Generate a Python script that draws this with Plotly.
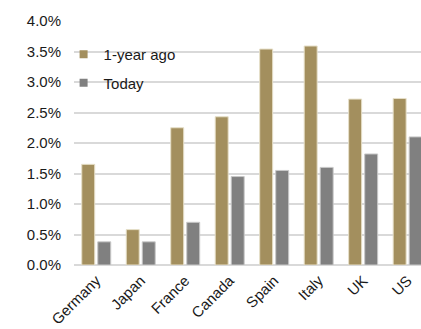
import plotly.graph_objects as go

countries = ["Germany", "Japan", "France", "Canada", "Spain", "Italy", "UK", "US"]
year_ago = [1.65, 0.58, 2.25, 2.43, 3.54, 3.59, 2.72, 2.73]
today = [0.38, 0.38, 0.70, 1.45, 1.55, 1.60, 1.82, 2.10]
y_ticks = [0, 0.5, 1.0, 1.5, 2.0, 2.5, 3.0, 3.5, 4.0]
y_tick_labels = ["0.0%", "0.5%", "1.0%", "1.5%", "2.0%", "2.5%", "3.0%", "3.5%", "4.0%"]
series_names = ["1-year ago", "Today"]

GOLD = "#A38F5E"
GRAY = "#808080"
FONT = "Liberation Sans, Arial, sans-serif"

fig = go.Figure()
fig.add_trace(go.Bar(x=countries, y=year_ago, name=series_names[0],
                     marker=dict(color=GOLD, line=dict(color="#E6DFC8", width=1)),
                     showlegend=False))
fig.add_trace(go.Bar(x=countries, y=today, name=series_names[1],
                     marker=dict(color=GRAY, line=dict(color="#C8C8C8", width=1)),
                     showlegend=False))
# legend entries (small square keys like the original)
for nm, col, grp in [(series_names[0], GOLD, "a"), (series_names[1], GRAY, "b")]:
    fig.add_trace(go.Scatter(x=[None], y=[None], mode="markers", name=nm,
                             marker=dict(symbol="square", size=8, color=col),
                             legendgroup=grp, showlegend=True))

fig.update_layout(
    width=421, height=329,
    margin=dict(l=74, r=0, t=21, b=64, autoexpand=False),
    paper_bgcolor="white", plot_bgcolor="white",
    barmode="group", bargap=0.28, bargroupgap=0.19,
    font=dict(family=FONT, size=15, color="#1a1a1a"),
    showlegend=True,
    legend=dict(x=-0.03, y=0.93, xanchor="left", yanchor="top",
                bgcolor="rgba(0,0,0,0)", font=dict(size=15, color="#1a1a1a"),
                traceorder="grouped", tracegroupgap=6,
                itemwidth=30),
    xaxis=dict(range=[-0.5, 7.3], tickangle=-45, showgrid=False,
               showline=False, ticks="", tickfont=dict(size=15),
               ticklabelstandoff=3, automargin=False),
    yaxis=dict(range=[0, 4.0], tickvals=y_ticks, ticktext=y_tick_labels,
               showgrid=True, gridcolor="#D9D9D9", gridwidth=1.5,
               zeroline=True, zerolinecolor="#D9D9D9", zerolinewidth=1.5,
               showline=False, ticks="", ticklen=0, tickfont=dict(size=15),
               ticklabelstandoff=12, automargin=False),
)

fig.write_html("out.html")
